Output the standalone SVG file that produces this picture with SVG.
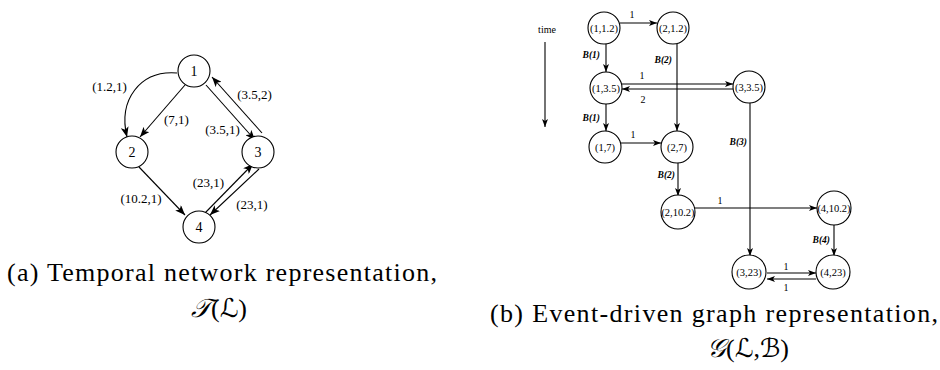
<svg xmlns="http://www.w3.org/2000/svg" width="940" height="370" viewBox="0 0 940 370">
<style>
.n{fill:#fff;stroke:#000;stroke-width:1.1}
.ea{fill:none;stroke:#000;stroke-width:1.1;marker-end:url(#ah)}
.eb{fill:none;stroke:#000;stroke-width:1.1;marker-end:url(#bh)}
.t{fill:#000}
.nl{font-size:14px;text-anchor:middle}
.el{font-size:13px;text-anchor:middle}
.rn{font-size:10.5px;text-anchor:middle}
.rl{font-size:10px;text-anchor:middle}
.bl{font-size:9.5px;font-weight:bold;font-style:italic;text-anchor:end}
.cap{font-size:26px}
.math{font-family:'DejaVu Serif','DejaVu Sans',serif;font-style:italic}
</style>
<defs>
<marker id="ah" markerUnits="userSpaceOnUse" markerWidth="11" markerHeight="8" refX="10" refY="4" orient="auto"><path d="M0,0 L10,4 L0,8 L2.5,4 z" fill="#000"/></marker>
<marker id="bh" markerUnits="userSpaceOnUse" markerWidth="9" markerHeight="6" refX="8" refY="3" orient="auto"><path d="M0,0 L8,3 L0,6 L2,3 z" fill="#000"/></marker>
</defs>
<rect width="940" height="370" fill="#fff"/>
<g font-family="Liberation Serif, serif">
<g id="edges-a">
<path class="ea" d="M177,73 C140,70 118,100 127,137"/>
<line class="ea" x1="185" y1="85" x2="140" y2="137"/>
<line class="ea" x1="206" y1="85" x2="255" y2="140"/>
<line class="ea" x1="262" y1="133" x2="212" y2="77"/>
<line class="ea" x1="139" y1="167" x2="185" y2="215"/>
<line class="ea" x1="205" y1="213" x2="253" y2="164"/>
<line class="ea" x1="259" y1="169" x2="210" y2="215"/>
<text class="t el" x="109.5" y="91">(1.2,1)</text>
<text class="t el" x="176.5" y="124">(7,1)</text>
<text class="t el" x="222.5" y="134">(3.5,1)</text>
<text class="t el" x="254.5" y="99">(3.5,2)</text>
<text class="t el" x="208.5" y="187">(23,1)</text>
<text class="t el" x="252" y="209">(23,1)</text>
<text class="t el" x="141" y="203">(10.2,1)</text>
</g>
<g id="a1"><circle class="n" cx="194" cy="71" r="16"/><text class="t nl" x="194" y="76">1</text></g>
<g id="a2"><circle class="n" cx="132" cy="152" r="16"/><text class="t nl" x="132" y="157">2</text></g>
<g id="a3"><circle class="n" cx="258" cy="152" r="16"/><text class="t nl" x="258" y="157">3</text></g>
<g id="a4"><circle class="n" cx="199" cy="227" r="16"/><text class="t nl" x="199" y="232">4</text></g>

<text class="t cap" x="7" y="281" textLength="430" lengthAdjust="spacing">(a) Temporal network representation,</text>
<text class="t cap" x="219" y="317" text-anchor="middle" font-size="27"><tspan class="math">𝒯</tspan>(<tspan class="math">ℒ</tspan>)</text>

<g id="time">
<text class="t rl" x="547" y="33">time</text>
<line class="eb" x1="545" y1="42" x2="545" y2="127"/>
</g>
<g id="edges-b">
<line class="eb" x1="620" y1="23" x2="657" y2="23"/>
<line class="eb" x1="606" y1="44" x2="606" y2="72"/>
<line class="eb" x1="677" y1="44" x2="677" y2="131"/>
<line class="eb" x1="622" y1="84" x2="733" y2="84"/>
<line class="eb" x1="733" y1="89" x2="622" y2="89"/>
<line class="eb" x1="606" y1="104" x2="606" y2="131"/>
<line class="eb" x1="621" y1="143" x2="661" y2="143"/>
<line class="eb" x1="678" y1="163" x2="678" y2="196"/>
<line class="eb" x1="694" y1="208" x2="817" y2="208"/>
<line class="eb" x1="750" y1="103" x2="750" y2="256"/>
<line class="eb" x1="834" y1="225" x2="834" y2="256"/>
<line class="eb" x1="767" y1="273" x2="816" y2="273"/>
<line class="eb" x1="816" y1="279" x2="767" y2="279"/>
<text class="t rl" x="632" y="18">1</text>
<text class="t rl" x="642" y="79">1</text>
<text class="t rl" x="643" y="103">2</text>
<text class="t rl" x="633" y="138">1</text>
<text class="t rl" x="720" y="204">1</text>
<text class="t rl" x="786" y="270">1</text>
<text class="t rl" x="786" y="291">1</text>
<text class="t bl" x="600" y="58">B(1)</text>
<text class="t bl" x="600" y="121">B(1)</text>
<text class="t bl" x="672" y="63">B(2)</text>
<text class="t bl" x="675" y="178">B(2)</text>
<text class="t bl" x="747" y="145">B(3)</text>
<text class="t bl" x="830" y="243">B(4)</text>
</g>
<g id="b11"><circle class="n" cx="604" cy="28" r="16"/><text class="t rn" x="604" y="31.5">(1,1.2)</text></g>
<g id="b21"><circle class="n" cx="673" cy="28" r="16"/><text class="t rn" x="673" y="31.5">(2,1.2)</text></g>
<g id="b13"><circle class="n" cx="606" cy="88" r="16"/><text class="t rn" x="606" y="91.5">(1,3.5)</text></g>
<g id="b33"><circle class="n" cx="749" cy="87" r="16"/><text class="t rn" x="749" y="90.5">(3,3.5)</text></g>
<g id="b17"><circle class="n" cx="605" cy="147" r="16"/><text class="t rn" x="605" y="150.5">(1,7)</text></g>
<g id="b27"><circle class="n" cx="677" cy="147" r="16"/><text class="t rn" x="677" y="150.5">(2,7)</text></g>
<g id="b210"><circle class="n" cx="678" cy="212" r="17"/><text class="t rn" x="678" y="215.5">(2,10.2)</text></g>
<g id="b410"><circle class="n" cx="834" cy="208" r="17"/><text class="t rn" x="834" y="211.5">(4,10.2)</text></g>
<g id="b323"><circle class="n" cx="749" cy="272" r="17"/><text class="t rn" x="749" y="275.5">(3,23)</text></g>
<g id="b423"><circle class="n" cx="833" cy="272" r="17"/><text class="t rn" x="833" y="275.5">(4,23)</text></g>

<text class="t cap" x="490" y="322" textLength="448" lengthAdjust="spacing">(b) Event-driven graph representation,</text>
<text class="t cap" x="748" y="357" text-anchor="middle" font-size="21"><tspan class="math">𝒢</tspan>(<tspan class="math">ℒ</tspan>,<tspan class="math">ℬ</tspan>)</text>
</g>
</svg>
